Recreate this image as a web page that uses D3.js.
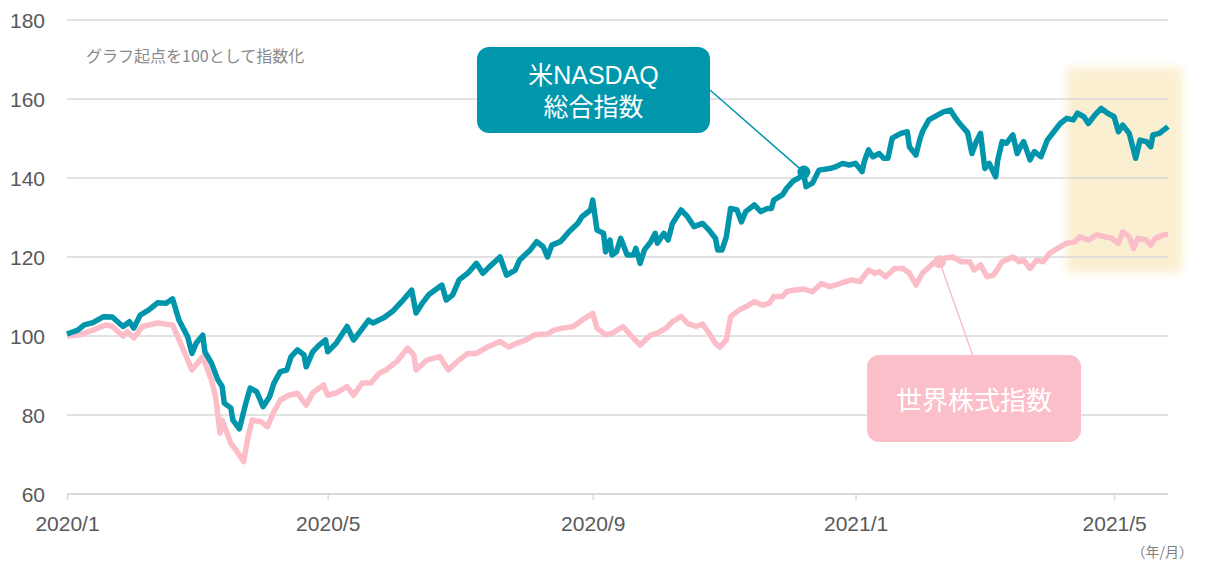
<!DOCTYPE html>
<html>
<head>
<meta charset="utf-8">
<script src="https://cdn.jsdelivr.net/npm/d3@7"></script>
<style>
  body { margin: 0; background: #fff; }
  text { font-family: "Liberation Sans", Arial, "Noto Sans CJK JP", sans-serif; }
  .jp { font-family: "Noto Sans CJK JP", "Noto Sans", sans-serif; }
  .mix { font-family: "Liberation Sans", Arial, "Noto Sans CJK JP", sans-serif; }
</style>
</head>
<body>
<div id="chart"></div>
<script>
// data (index, start = 100)
const nasdaqDates = ["2020-01-01","2020-01-06","2020-01-09","2020-01-13","2020-01-18","2020-01-22","2020-01-27","2020-01-30","2020-02-01","2020-02-04",
  "2020-02-08","2020-02-12","2020-02-16","2020-02-19","2020-02-22","2020-02-26","2020-02-28","2020-03-01","2020-03-04","2020-03-05",
  "2020-03-08","2020-03-11","2020-03-13","2020-03-14","2020-03-17","2020-03-18","2020-03-21","2020-03-24","2020-03-26","2020-03-29",
  "2020-04-01","2020-04-04","2020-04-06","2020-04-09","2020-04-12","2020-04-14","2020-04-17","2020-04-20","2020-04-21","2020-04-24",
  "2020-04-27","2020-04-30","2020-05-01","2020-05-05","2020-05-10","2020-05-13","2020-05-16","2020-05-20","2020-05-22","2020-05-27",
  "2020-05-31","2020-06-05","2020-06-09","2020-06-11","2020-06-14","2020-06-17","2020-06-23","2020-06-25","2020-06-28","2020-07-01",
  "2020-07-05","2020-07-09","2020-07-12","2020-07-15","2020-07-20","2020-07-23","2020-07-27","2020-07-29","2020-08-03","2020-08-06",
  "2020-08-09","2020-08-11","2020-08-13","2020-08-17","2020-08-19","2020-08-21","2020-08-25","2020-08-27","2020-08-31","2020-09-01",
  "2020-09-03","2020-09-06","2020-09-07","2020-09-09","2020-09-10","2020-09-12","2020-09-14","2020-09-17","2020-09-20","2020-09-21",
  "2020-09-23","2020-09-25","2020-09-28","2020-09-30","2020-10-01","2020-10-04","2020-10-06","2020-10-08","2020-10-12","2020-10-15",
  "2020-10-18","2020-10-22","2020-10-25","2020-10-28","2020-10-29","2020-10-31","2020-11-02","2020-11-04","2020-11-07","2020-11-09",
  "2020-11-11","2020-11-15","2020-11-18","2020-11-21","2020-11-23","2020-11-24","2020-11-28","2020-11-30","2020-12-03","2020-12-08",
  "2020-12-09","2020-12-12","2020-12-15","2020-12-20","2020-12-23","2020-12-26","2020-12-29","2021-01-01","2021-01-04","2021-01-05",
  "2021-01-07","2021-01-09","2021-01-12","2021-01-14","2021-01-16","2021-01-18","2021-01-22","2021-01-25","2021-01-26","2021-01-29",
  "2021-01-31","2021-02-01","2021-02-04","2021-02-08","2021-02-11","2021-02-14","2021-02-16","2021-02-18","2021-02-22","2021-02-24",
  "2021-02-26","2021-02-28","2021-03-02","2021-03-04","2021-03-07","2021-03-08","2021-03-10","2021-03-12","2021-03-15","2021-03-17",
  "2021-03-19","2021-03-20","2021-03-23","2021-03-25","2021-03-28","2021-03-31","2021-04-03","2021-04-06","2021-04-09","2021-04-12",
  "2021-04-14","2021-04-17","2021-04-19","2021-04-22","2021-04-25","2021-04-28","2021-05-01","2021-05-03","2021-05-05","2021-05-08",
  "2021-05-09","2021-05-11","2021-05-13","2021-05-16","2021-05-18","2021-05-19","2021-05-22","2021-05-26"];
const nasdaqValues = [100.5,101.5,102.8,103.4,104.9,104.8,102.4,103.6,102,105.3,
  106.6,108.4,108.3,109.4,104,99.8,95.6,98.2,100.2,96,
  93.2,88.9,87.2,83,81.8,78.7,76.5,83,86.8,85.9,
  82.1,84.6,88,91,91.4,94.8,96.5,95.2,92.2,96,
  97.7,99,96,98.2,102.4,99,101.1,104,103.3,104.6,
  106.2,109.1,111.6,105.8,108.4,110.5,112.9,109.1,110.4,114.2,
  115.9,118.4,115.9,117.5,120,115.4,116.7,119.2,121.8,123.9,
  122.6,120,123,123.9,125.1,126.4,128.5,130.2,131.9,134.4,
  126.8,126,121.3,124.3,120.5,121.3,124.7,120.5,120.5,122.2,
  118.4,121.8,123.9,126,123.5,126,124.3,128.5,131.9,130.2,
  127.7,128.5,126.8,124.7,121.8,121.8,125.1,132.3,131.9,128.9,
  131.5,133.2,131.5,132.3,132.3,134.4,135.7,137.4,139.2,140.8,
  137.8,138.7,142,142.4,142.9,143.7,143.3,143.7,141.6,144.1,
  147.1,145.4,146.2,145,145,150.1,151.3,151.7,147.9,145.8,
  150.1,151.7,154.7,155.9,156.8,157.2,155.5,154,151.5,146.2,
  149.2,151.3,142.4,143.7,140.3,144.6,149.2,148.8,150.9,146.2,
  148.4,149.2,144.6,146.7,145.4,149.6,151.7,153.8,155.1,154.7,
  156.4,155.5,153.8,155.9,157.6,156.4,155.5,151.7,153.4,151.3,
  149.2,145,149.6,149.2,147.9,150.9,151.3,153];

const worldDates = ["2020-01-01","2020-01-07","2020-01-13","2020-01-19","2020-01-22","2020-01-27","2020-01-29","2020-02-01","2020-02-05","2020-02-12",
  "2020-02-19","2020-02-22","2020-02-28","2020-03-04","2020-03-08","2020-03-10","2020-03-12","2020-03-13","2020-03-17","2020-03-20",
  "2020-03-23","2020-03-25","2020-03-27","2020-03-31","2020-04-03","2020-04-06","2020-04-09","2020-04-13","2020-04-17","2020-04-21",
  "2020-04-24","2020-04-29","2020-05-01","2020-05-05","2020-05-10","2020-05-13","2020-05-17","2020-05-21","2020-05-25","2020-05-28",
  "2020-06-02","2020-06-07","2020-06-10","2020-06-11","2020-06-16","2020-06-22","2020-06-26","2020-06-30","2020-07-05","2020-07-09",
  "2020-07-14","2020-07-20","2020-07-24","2020-07-28","2020-08-01","2020-08-05","2020-08-11","2020-08-14","2020-08-18","2020-08-23",
  "2020-08-27","2020-09-01","2020-09-03","2020-09-07","2020-09-10","2020-09-15","2020-09-20","2020-09-23","2020-09-28","2020-10-01",
  "2020-10-05","2020-10-08","2020-10-12","2020-10-15","2020-10-19","2020-10-22","2020-10-25","2020-10-28","2020-10-30","2020-11-02",
  "2020-11-04","2020-11-08","2020-11-11","2020-11-15","2020-11-19","2020-11-22","2020-11-24","2020-11-28","2020-11-30","2020-12-03",
  "2020-12-08","2020-12-12","2020-12-16","2020-12-20","2020-12-25","2020-12-30","2021-01-03","2021-01-07","2021-01-10","2021-01-12",
  "2021-01-15","2021-01-19","2021-01-23","2021-01-26","2021-01-29","2021-02-01","2021-02-06","2021-02-11","2021-02-15","2021-02-19",
  "2021-02-23","2021-02-25","2021-02-28","2021-03-03","2021-03-06","2021-03-10","2021-03-15","2021-03-18","2021-03-20","2021-03-23",
  "2021-03-26","2021-03-29","2021-04-01","2021-04-06","2021-04-09","2021-04-13","2021-04-15","2021-04-19","2021-04-23","2021-04-27",
  "2021-04-30","2021-05-03","2021-05-05","2021-05-08","2021-05-10","2021-05-12","2021-05-16","2021-05-18","2021-05-20","2021-05-24",
  "2021-05-26"];
const worldValues = [100,100.3,101.5,102.8,102.4,100,101.1,99.5,102.4,103.3,
  102.8,99,91.4,94.8,88.9,84.6,75.4,78.7,72.9,70.7,
  68.2,74.5,78.7,78.3,77,80.8,83.8,85,85.5,82.5,
  85.6,87.6,85,85.6,87.2,85,88.1,88.1,90.6,91.4,
  93.5,96.9,95.2,91.4,93.9,94.8,91.4,93.5,95.6,95.6,
  97.2,98.6,97.2,98.2,99,100.3,100.5,101.5,102,102.4,
  104,105.7,102,100.3,100.7,102.4,99.4,97.7,100.3,100.7,
  102,103.6,105,103.2,102.4,103,100.7,98.1,97.2,99,
  104.9,106.6,107.4,108.7,107.8,108.3,110,110,111.2,111.6,
  111.9,111.2,113.3,112.5,113.3,114.2,113.8,116.7,115.9,116.3,
  115,117.1,117.1,115.9,112.9,115.9,118.4,119.7,120,118.8,
  118.8,116.7,118,115,115.4,118.8,120,118.8,119.2,117.1,
  119.2,118.8,120.9,122.6,123.5,123.9,125.1,124.3,125.6,125.1,
  124.7,123.5,126.4,125.1,122.2,124.7,124.3,123,124.7,125.6,
  125.8];

const yTicks = [60, 80, 100, 120, 140, 160, 180];
const xTicks = ["2020-01-01", "2020-05-01", "2020-09-01", "2021-01-01", "2021-05-01"];
const xDomain = ["2020-01-01", "2021-05-26"];
const nasdaqMarker = ["2020-12-08", 141.5];
const worldMarker = ["2021-02-09", 118.8];
const highlightStart = "2021-04-09";
const highlightRange = [116, 168];

(function () {

const margin = {top: 20, right: 37, bottom: 69, left: 67};
const width = 1205 - margin.left - margin.right,
   height = 563 - margin.top - margin.bottom;

const teal = "#0095ab";
const pink = "#fbbec9";

const parseDate = d3.timeParse("%Y-%m-%d");

const svg = d3.select("#chart").append("svg")
    .attr("width", width + margin.left + margin.right)
    .attr("height", height + margin.top + margin.bottom)
  .append("g")
    .attr("transform", "translate(" + margin.left + "," + margin.top + ")");

const xScale = d3.scaleTime()
  .domain(xDomain.map(parseDate))
  .range([0, width]);

const yScale = d3.scaleLinear()
  .domain([60, 180])
  .range([height, 0]);

const nasdaq = nasdaqDates.map((d, i) => ({date: parseDate(d), value: nasdaqValues[i]}));
const world = worldDates.map((d, i) => ({date: parseDate(d), value: worldValues[i]}));

// soft yellow highlight for the latest stretch
const defs = svg.append("defs");
defs.append("filter").attr("id", "soft")
  .attr("x", "-20%").attr("y", "-20%").attr("width", "140%").attr("height", "140%")
  .append("feGaussianBlur").attr("stdDeviation", 4);

svg.append("rect")
  .attr("x", xScale(parseDate(highlightStart)))
  .attr("y", yScale(highlightRange[1]))
  .attr("width", width + 14 - xScale(parseDate(highlightStart)))
  .attr("height", yScale(highlightRange[0]) - yScale(highlightRange[1]))
  .attr("fill", "#faefd0")
  .attr("filter", "url(#soft)");

// gridlines
svg.append("g")
  .selectAll("line")
  .data(yTicks)
  .join("line")
    .attr("x1", 0)
    .attr("x2", width)
    .attr("y1", d => yScale(d))
    .attr("y2", d => yScale(d))
    .attr("stroke", "#d9d9d9")
    .attr("stroke-width", d => d === 60 ? 2 : 1.5);

// y labels
svg.append("g")
  .selectAll("text")
  .data(yTicks)
  .join("text")
    .attr("x", -22)
    .attr("y", d => yScale(d))
    .attr("dy", "0.36em")
    .attr("text-anchor", "end")
    .attr("font-size", 21)
    .attr("fill", "#595959")
    .text(d => d);

// x ticks + labels
const xAxis = d3.axisBottom(xScale)
  .tickValues(xTicks.map(parseDate))
  .tickFormat(d3.timeFormat("%Y/%-m"))
  .tickSize(6)
  .tickSizeOuter(0);

const gx = svg.append("g")
  .attr("transform", `translate(0,${height})`)
  .call(xAxis);
gx.select(".domain").remove();
gx.selectAll(".tick line").attr("stroke", "#d9d9d9").attr("stroke-width", 1.5);
gx.selectAll(".tick text")
  .attr("y", 22)
  .attr("dy", "0.71em")
  .attr("font-size", 21)
  .attr("fill", "#595959")
  .attr("font-family", "'Liberation Sans', Arial, sans-serif");

svg.append("text")
  .attr("class", "jp")
  .attr("x", 1193 - margin.left)
  .attr("y", 557 - margin.top)
  .attr("text-anchor", "end")
  .attr("font-size", 14)
  .attr("fill", "#7f7f7f")
  .text("（年/月）");

svg.append("text")
  .attr("class", "jp")
  .attr("x", 86 - margin.left)
  .attr("y", 62 - margin.top)
  .attr("font-size", 16)
  .attr("fill", "#8a8a8a")
  .text("グラフ起点を100として指数化");

// lines
const line = d3.line()
  .x(d => xScale(d.date))
  .y(d => yScale(d.value))
  .curve(d3.curveLinear);

svg.append("path")
  .datum(world)
  .attr("fill", "none")
  .attr("stroke", pink)
  .attr("stroke-width", 5.5)
  .attr("stroke-linejoin", "round")
  .attr("d", line);

svg.append("path")
  .datum(nasdaq)
  .attr("fill", "none")
  .attr("stroke", teal)
  .attr("stroke-width", 5.5)
  .attr("stroke-linejoin", "round")
  .attr("d", line);

// callouts
const nx = xScale(parseDate(nasdaqMarker[0])), ny = yScale(nasdaqMarker[1]);
const wx = xScale(parseDate(worldMarker[0])), wy = yScale(worldMarker[1]);

svg.append("line")
  .attr("x1", 710 - margin.left).attr("y1", 90 - margin.top)
  .attr("x2", nx).attr("y2", ny)
  .attr("stroke", teal).attr("stroke-width", 1.5);
svg.append("circle").attr("cx", nx).attr("cy", ny).attr("r", 6.5).attr("fill", teal);

svg.append("line")
  .attr("x1", 973 - margin.left).attr("y1", 356 - margin.top)
  .attr("x2", wx).attr("y2", wy)
  .attr("stroke", pink).attr("stroke-width", 1.5);
svg.append("circle").attr("cx", wx).attr("cy", wy).attr("r", 6.5).attr("fill", pink);

const tealBox = svg.append("g").attr("transform", `translate(${477 - margin.left},${47 - margin.top})`);
tealBox.append("rect").attr("width", 233).attr("height", 86).attr("rx", 12).attr("fill", "#0097ad");
const tealLabel = tealBox.append("text").attr("class", "mix")
  .attr("text-anchor", "middle")
  .attr("font-size", 25).attr("fill", "#fff");
tealLabel.append("tspan").attr("x", 116.5).attr("y", 37).text("米NASDAQ");
tealLabel.append("tspan").attr("x", 116.5).attr("y", 69).attr("class", "jp").text("総合指数");

const pinkBox = svg.append("g").attr("transform", `translate(${867 - margin.left},${355 - margin.top})`);
pinkBox.append("rect").attr("width", 214).attr("height", 87).attr("rx", 12).attr("fill", "#fbbfca");
pinkBox.append("text").attr("class", "jp")
  .attr("x", 107).attr("y", 55).attr("text-anchor", "middle")
  .attr("font-size", 26).attr("fill", "#fff").text("世界株式指数");

})()
</script>
</body>
</html>
